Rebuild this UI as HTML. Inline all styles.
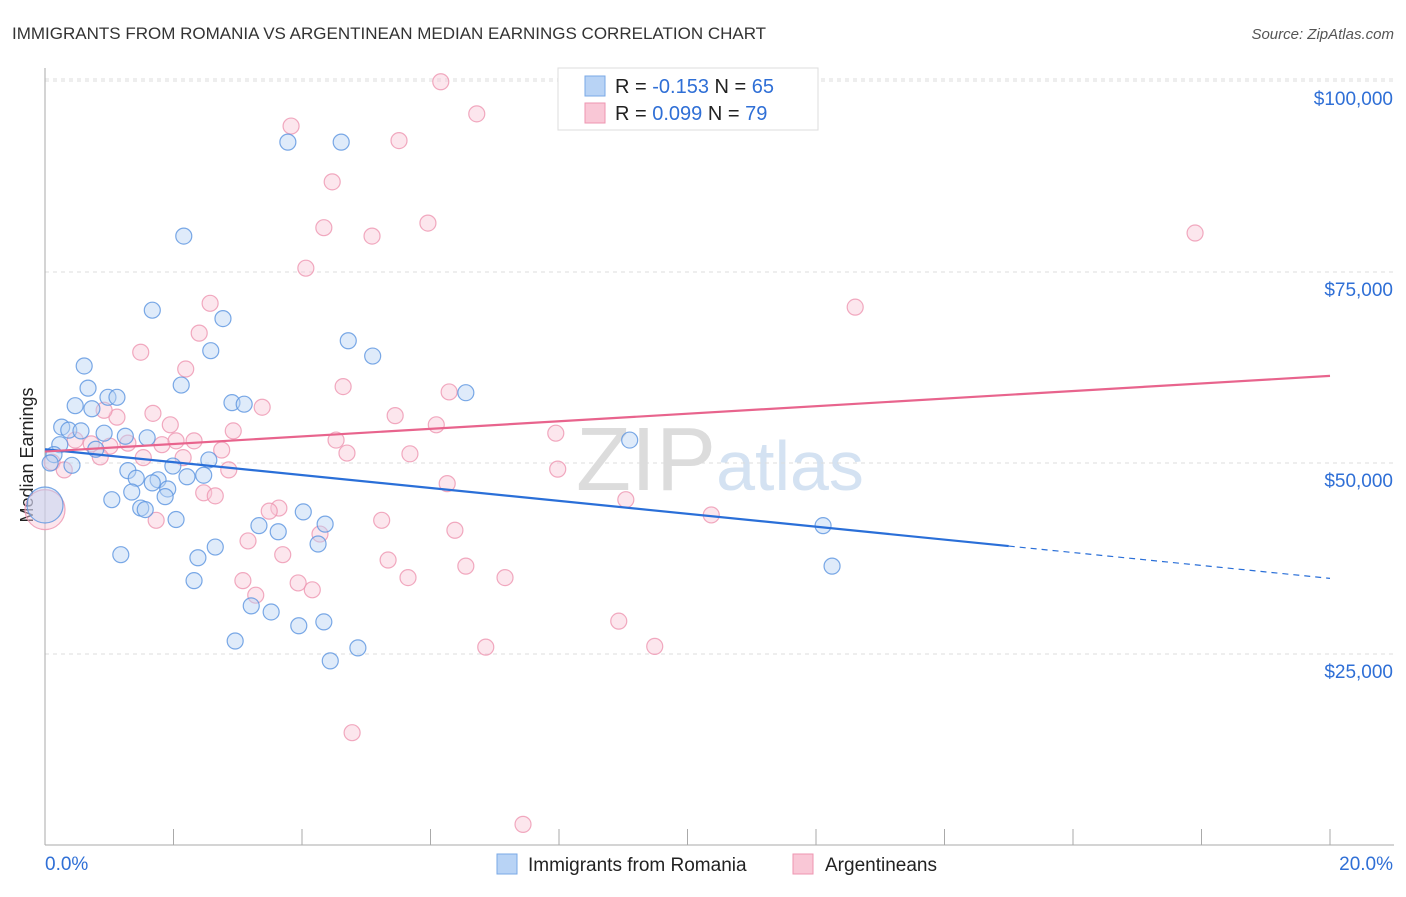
<!DOCTYPE html>
<html><head><meta charset="utf-8"><style>
body{margin:0;background:#fff;font-family:"Liberation Sans",sans-serif}
svg text{font-family:"Liberation Sans",sans-serif}
</style></head><body>
<svg id="c" width="1406" height="892" xmlns="http://www.w3.org/2000/svg">
<text x="12" y="39" font-size="17" fill="#333">IMMIGRANTS FROM ROMANIA VS ARGENTINEAN MEDIAN EARNINGS CORRELATION CHART</text>
<text x="1394" y="39" font-size="15" fill="#555" text-anchor="end" font-style="italic">Source: ZipAtlas.com</text>
<text x="33" y="455" font-size="18" fill="#222" text-anchor="middle" transform="rotate(-90 33 455)">Median Earnings</text>
<text x="720" y="490" font-size="90" fill="#e4e8ee" text-anchor="middle" font-family="Liberation Serif"><tspan fill="#dcdcdc">ZIP</tspan><tspan fill="#d4e2f2" font-family="Liberation Sans" font-size="70">atlas</tspan></text>
<g id="grid"></g><g id="axes"></g><g id="pts"></g><g id="trend"></g>
<g>
<rect x="558" y="68" width="260" height="62" fill="#fff" stroke="#ddd"/>
<rect x="585" y="76" width="20" height="20" fill="#b8d3f5" stroke="#7aa8e6"/>
<text x="615" y="93" font-size="20" fill="#222">R = <tspan fill="#2f6fd6">-0.153</tspan>   N = <tspan fill="#2f6fd6">65</tspan></text>
<rect x="585" y="103" width="20" height="20" fill="#f9c7d6" stroke="#ee95b0"/>
<text x="615" y="120" font-size="20" fill="#222">R =  <tspan fill="#2f6fd6">0.099</tspan>   N = <tspan fill="#2f6fd6">79</tspan></text>
</g>
<g>
<rect x="497" y="854" width="20" height="20" fill="#b8d3f5" stroke="#7aa8e6"/>
<text x="528" y="871" font-size="19" fill="#222">Immigrants from Romania</text>
<rect x="793" y="854" width="20" height="20" fill="#f9c7d6" stroke="#ee95b0"/>
<text x="825" y="871" font-size="19" fill="#222">Argentineans</text>
</g>
</svg>
<script>
const yTicks=[25000,50000,75000,100000];
const yTickLabels=["$25,000","$50,000","$75,000","$100,000"];
const xTickCount=10;
const xLabels=["0.0%","20.0%"];
const blueX=[3.78,4.61,2.16,1.67,2.77,2.58,4.72,5.10,0.61,2.12,0.67,0.98,1.12,0.47,0.73,2.91,3.10,6.55,0.26,0.37,0.56,0.92,1.25,1.59,0.23,0.79,0.14,0.42,0.08,1.29,1.99,2.55,1.42,1.76,2.21,2.47,1.67,1.91,1.35,1.87,1.04,1.49,1.56,2.04,4.02,4.36,3.33,3.63,4.25,2.65,2.38,1.18,2.32,3.21,3.52,3.95,4.34,2.96,4.87,4.44,9.10,12.11,12.25];
const blueY=[92.0,92.0,79.7,70.0,68.9,64.7,66.0,64.0,62.7,60.2,59.8,58.6,58.6,57.5,57.1,57.9,57.7,59.2,54.7,54.3,54.2,53.9,53.5,53.3,52.4,51.8,51.1,49.7,50.0,49.0,49.6,50.4,48.0,47.8,48.2,48.4,47.4,46.6,46.2,45.6,45.2,44.1,43.9,42.6,43.6,42.0,41.8,41.0,39.4,39.0,37.6,38.0,34.6,31.3,30.5,28.7,29.2,26.7,25.8,24.1,53.0,41.8,36.5];
const pinkX=[6.16,6.72,8.20,3.83,5.51,4.47,5.96,4.34,5.09,4.06,17.90,12.61,2.57,2.40,1.49,2.19,4.64,6.29,3.38,5.45,6.09,1.68,1.12,0.92,1.95,2.93,4.53,4.70,7.95,0.47,0.72,1.01,1.29,1.82,2.04,2.32,2.75,5.68,0.11,0.30,0.86,1.53,2.15,2.86,7.98,6.26,2.47,2.65,3.64,3.49,1.73,5.24,6.38,9.04,10.37,3.16,4.28,3.70,5.34,6.55,3.08,3.94,4.16,3.28,5.65,7.16,8.93,6.86,9.49,4.78,7.44];
const pinkY=[99.9,95.7,95.2,94.1,92.2,86.8,81.4,80.8,79.7,75.5,80.1,70.4,70.9,67.0,64.5,62.3,60.0,59.3,57.3,56.2,55.0,56.5,56.0,56.9,55.0,54.2,53.0,51.3,53.9,53.0,52.5,52.2,52.6,52.4,52.9,52.9,51.7,51.2,50.1,49.1,50.8,50.7,50.7,49.1,49.2,47.3,46.1,45.7,44.1,43.7,42.5,42.5,41.2,45.2,43.2,39.8,40.7,38.0,37.3,36.5,34.6,34.3,33.4,32.7,35.0,35.0,29.3,25.9,26.0,14.7,2.7];
const bigBlue=[0,44.5], bigPink=[0,43.9];
const blueTrend=[51.8,34.9], blueSolidEnd=15.0;
const pinkTrend=[51.5,61.4];
const NS="http://www.w3.org/2000/svg";
const X0=45,X1=1330,Y0=845,YK=191/25;
const sx=v=>X0+(X1-X0)*v/20, sy=k=>Y0-k*YK;
function mk(t,a,p){const e=document.createElementNS(NS,t);for(const k in a)e.setAttribute(k,a[k]);p.appendChild(e);return e;}
const grid=document.getElementById('grid'),axes=document.getElementById('axes'),pts=document.getElementById('pts'),tr=document.getElementById('trend');
yTicks.forEach((t,i)=>{const y=sy(t/1000);
const l=mk('line',{x1:X0,x2:1394,y1:y,y2:y,stroke:'#ddd','stroke-dasharray':'4,4'},grid);


const tx=mk('text',{x:1393,y:y+24,'font-size':19,fill:'#2f6fd6','text-anchor':'end'},grid);tx.textContent=yTickLabels[i];

});
const tg=mk('line',{x1:X0,x2:1394,y1:79,y2:79,stroke:'#ddd','stroke-dasharray':'4,4'},grid);
mk('line',{x1:X0,x2:X0,y1:68,y2:Y0,stroke:'#aaa'},axes);
const xa=mk('line',{x1:X0,x2:1394,y1:Y0,y2:Y0,stroke:'#aaa'},axes);


for(let i=0;i<=xTickCount;i++){const x=sx(i*20/xTickCount);const t=mk('line',{x1:x,x2:x,y1:Y0,y2:Y0-16,stroke:'#aaa'},axes);

}
[[X0,'start'],[1393,'end']].forEach((p,i)=>{const t=mk('text',{x:p[0],y:870,'font-size':19,fill:'#2f6fd6','text-anchor':p[1]},axes);t.textContent=xLabels[i];

});
function dot(x,y,r,c,s,name){const e=mk('circle',{cx:sx(x),cy:sy(y),r:r,fill:c,'fill-opacity':0.45,stroke:s,'stroke-opacity':0.8,'stroke-width':1.2},pts);

}
dot(bigPink[0],bigPink[1],20,'#f9c7d6','#ee95b0','argentineans-point-large');
dot(bigBlue[0],bigBlue[1],18,'#b8d3f5','#5a93e0','romania-point-large');
pinkX.forEach((x,i)=>dot(x,pinkY[i],8,'#f9c7d6','#ee95b0','argentineans-point'));
blueX.forEach((x,i)=>dot(x,blueY[i],8,'#b8d3f5','#5a93e0','romania-point'));
const by=v=>blueTrend[0]+(blueTrend[1]-blueTrend[0])*v/20;
const b1=mk('line',{x1:sx(0),y1:sy(by(0)),x2:sx(blueSolidEnd),y2:sy(by(blueSolidEnd)),stroke:'#2a6fd8','stroke-width':2.2},tr);


const b2=mk('line',{x1:sx(blueSolidEnd),y1:sy(by(blueSolidEnd)),x2:sx(20),y2:sy(by(20)),stroke:'#2a6fd8','stroke-width':1.2,'stroke-dasharray':'6,5'},tr);


const p1=mk('line',{x1:sx(0),y1:sy(pinkTrend[0]),x2:sx(20),y2:sy(pinkTrend[1]),stroke:'#e8648d','stroke-width':2.2},tr);


</script>
</body></html>
